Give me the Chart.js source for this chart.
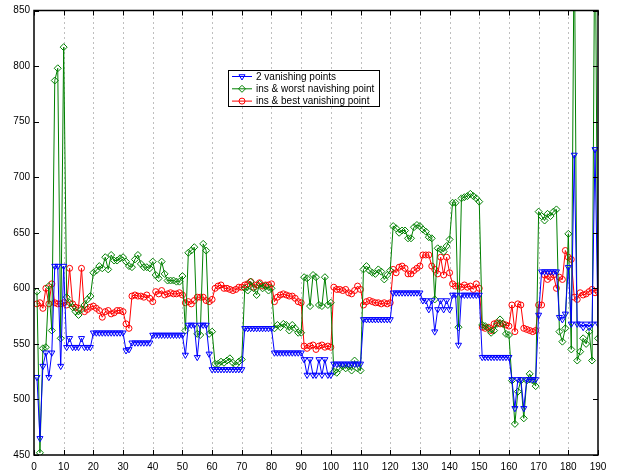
<!DOCTYPE html>
<html>
<head>
<meta charset="utf-8">
<script src="https://cdn.jsdelivr.net/npm/chart.js@4/dist/chart.umd.min.js"></script>
<style>
html,body{margin:0;padding:0;background:#fff;}
#wrap{width:621px;height:472px;}
</style>
</head>
<body>
<div id="wrap"><canvas id="c" width="621" height="472"></canvas></div>
<script>
const xIndex = [1,2,3,4,5,6,7,8,9,10,11,12,13,14,15,16,17,18,19,20,21,22,23,24,25,26,27,28,29,30,31,32,33,34,35,36,37,38,39,40,41,42,43,44,45,46,47,48,49,50,51,52,53,54,55,56,57,58,59,60,61,62,63,64,65,66,67,68,69,70,71,72,73,74,75,76,77,78,79,80,81,82,83,84,85,86,87,88,89,90,91,92,93,94,95,96,97,98,99,100,101,102,103,104,105,106,107,108,109,110,111,112,113,114,115,116,117,118,119,120,121,122,123,124,125,126,127,128,129,130,131,132,133,134,135,136,137,138,139,140,141,142,143,144,145,146,147,148,149,150,151,152,153,154,155,156,157,158,159,160,161,162,163,164,165,166,167,168,169,170,171,172,173,174,175,176,177,178,179,180,181,182,183,184,185,186,187,188,189,190];

const twoVanishing = [
520,465,530,542,520,542,620,620,530,620,
547,555,547,547,547,555,547,547,547,560,
560,560,560,560,560,560,560,560,560,560,
544,545,551,551,551,551,551,551,551,558,
558,558,558,558,558,558,558,558,558,558,
540,567,567,567,538,567,567,567,541,527,
527,527,527,527,527,527,527,527,527,527,
564,564,564,564,564,564,564,564,564,564,
542,542,542,542,542,542,542,542,542,542,
536,522,536,522,522,536,522,536,522,522,
532,532,532,532,532,532,532,532,532,532,
572,572,572,572,572,572,572,572,572,572,
596,596,596,596,596,596,596,596,596,596,
589,589,581,589,561,581,589,581,589,581,
594,594,549,594,594,594,594,594,594,594,
538,538,538,538,538,538,538,538,538,538,
518,492,518,518,492,518,518,518,518,576,
615,615,615,615,615,615,574,572,577,619,
568,720,568,568,565,568,565,568,725,568];

const insWorst = [
597,452,546,547,602,562,787,798,555,817,
592,587,583,579,576,581,585,590,593,614,
616,620,618,628,617,630,625,625,627,628,
624,620,619,626,630,622,619,619,618,624,
612,609,624,613,607,607,607,606,606,611,
562,632,634,637,559,558,640,634,559,561,
532,532,534,533,535,537,533,531,534,536,
600,598,606,600,594,604,600,602,598,600,
564,567,565,568,567,562,567,564,560,560,
610,609,584,612,610,585,584,610,585,587,
525,524,528,530,528,530,526,535,528,526,
617,620,616,614,613,617,615,608,612,616,
656,654,650,652,652,645,645,655,657,656,
653,651,646,645,590,636,635,633,638,644,
677,677,565,681,682,683,685,683,681,678,
567,566,564,560,562,568,572,568,559,558,
517,478,507,517,483,517,523,517,512,669,
665,661,667,665,669,671,561,552,564,649,
545,930,535,543,555,550,561,535,960,555];

const insBest = [
586,587,582,600,586,604,587,586,586,587,
585,618,586,583,582,618,579,581,583,584,
582,580,574,579,580,577,578,580,580,579,
568,564,593,594,593,593,592,594,591,588,
597,595,598,594,595,596,595,595,596,594,
587,588,586,589,592,592,592,589,588,590,
600,602,603,600,600,599,598,599,601,601,
603,604,606,601,603,605,602,603,603,604,
588,592,594,595,594,593,593,591,588,587,
548,546,548,549,545,548,549,547,548,547,
601,599,599,598,599,596,595,598,602,599,
585,588,589,588,587,587,586,587,586,587,
617,614,619,620,618,613,613,616,618,620,
630,630,630,620,617,613,628,612,628,614,
604,602,602,601,603,601,602,599,604,600,
565,564,565,562,568,569,568,568,567,566,
585,561,586,585,564,563,562,561,562,585,
585,612,608,610,612,600,610,608,634,628,
626,592,590,596,594,595,597,599,596,597];

const seriesNames = ['2 vanishing points','ins & worst navishing point','ins & best vanishing point'];
const xTicks = [0,10,20,30,40,50,60,70,80,90,100,110,120,130,140,150,160,170,180,190];
const yTicks = [450,500,550,600,650,700,750,800,850];

const FONT = "'Liberation Sans', Arial, Helvetica, sans-serif";

const framePlugin = {
  id: 'frame',
  beforeDatasetsDraw(chart) {
    const {ctx, chartArea: a, scales: {x}} = chart;
    ctx.save();
    ctx.strokeStyle = 'rgba(40,40,40,0.6)';
    ctx.lineWidth = 1;
    ctx.setLineDash([1, 4]);
    xTicks.forEach(v => {
      if (v <= x.min || v >= x.max) return;
      const px = Math.round(x.getPixelForValue(v)) + 0.5;
      ctx.beginPath(); ctx.moveTo(px, a.top + 2); ctx.lineTo(px, a.bottom); ctx.stroke();
    });
    ctx.restore();
  },
  afterDatasetsDraw(chart) {
    const {ctx, chartArea: a, scales: {x, y}} = chart;
    ctx.save();
    ctx.strokeStyle = '#000';
    ctx.lineWidth = 1.5;
    ctx.setLineDash([]);
    ctx.strokeRect(a.left, a.top, a.right - a.left, a.bottom - a.top);
    ctx.lineWidth = 1;
    const L = 5;
    xTicks.forEach(v => {
      const px = Math.round(x.getPixelForValue(v)) + 0.5;
      ctx.beginPath(); ctx.moveTo(px, a.bottom); ctx.lineTo(px, a.bottom - L); ctx.stroke();
      ctx.beginPath(); ctx.moveTo(px, a.top); ctx.lineTo(px, a.top + L); ctx.stroke();
    });
    yTicks.forEach(v => {
      const py = Math.round(y.getPixelForValue(v)) + 0.5;
      ctx.beginPath(); ctx.moveTo(a.left, py); ctx.lineTo(a.left + L, py); ctx.stroke();
      ctx.beginPath(); ctx.moveTo(a.right, py); ctx.lineTo(a.right - L, py); ctx.stroke();
    });
    // legend
    const bx = 228.5, by = 70.5, bw = 151, bh = 36;
    ctx.fillStyle = '#fff';
    ctx.fillRect(bx, by, bw, bh);
    ctx.strokeStyle = '#000';
    ctx.lineWidth = 1;
    ctx.strokeRect(bx, by, bw, bh);
    chart.data.datasets.forEach((ds, i) => {
      const ry = 76.5 + i * 12.3;
      ctx.strokeStyle = ds.borderColor;
      ctx.lineWidth = 1;
      ctx.beginPath(); ctx.moveTo(232, ry); ctx.lineTo(252, ry); ctx.stroke();
      ctx.fillStyle = 'rgba(0,0,0,0)';
      ctx.strokeStyle = ds.borderColor;
      Chart.helpers.drawPoint(ctx, {
        pointStyle: ds.pointStyle, rotation: ds.pointRotation || 0,
        radius: ds.pointRadius, borderWidth: 1
      }, 242, ry);
      ctx.fillStyle = '#000';
      ctx.font = '10px ' + FONT;
      ctx.textAlign = 'left';
      ctx.textBaseline = 'middle';
      ctx.fillText(ds.label, 256, ry + 0.5);
    });
    ctx.restore();
  }
};

const mk = (label, data, color, style, rot, r) => ({
  label, data, borderColor: color, backgroundColor: 'rgba(0,0,0,0)',
  pointBorderColor: color, pointBackgroundColor: 'rgba(0,0,0,0)',
  pointStyle: style, pointRotation: rot, pointRadius: r, pointBorderWidth: 1,
  borderWidth: 1, tension: 0, fill: false
});

new Chart(document.getElementById('c'), {
  type: 'line',
  data: {
    labels: xIndex,
    datasets: [
      mk(seriesNames[0], twoVanishing, '#0000ff', 'triangle', 180, 3.5),
      mk(seriesNames[1], insWorst, '#008000', 'rectRot', 0, 3.5),
      mk(seriesNames[2], insBest, '#ff0000', 'circle', 0, 3)
    ]
  },
  options: {
    responsive: false,
    animation: false,
    devicePixelRatio: 1,
    layout: {padding: {top: 10.5, right: 23, left: 0, bottom: 0}},
    plugins: {legend: {display: false}, tooltip: {enabled: false}},
    scales: {
      x: {
        type: 'linear', min: 0, max: 190,
        afterFit: s => { s.height = 17; },
        afterBuildTicks: s => { s.ticks = xTicks.map(v => ({value: v})); },
        grid: {display: false, drawTicks: false},
        border: {display: false},
        ticks: {autoSkip: false, maxRotation: 0, padding: 6, color: '#000', font: {size: 10, family: FONT}}
      },
      y: {
        min: 450, max: 850,
        afterFit: s => { s.width = 34; },
        afterBuildTicks: s => { s.ticks = yTicks.map(v => ({value: v})); },
        grid: {display: false, drawTicks: false},
        border: {display: false},
        ticks: {padding: 4, color: '#000', font: {size: 10, family: FONT}}
      }
    }
  },
  plugins: [framePlugin]
});
</script>
</body>
</html>
